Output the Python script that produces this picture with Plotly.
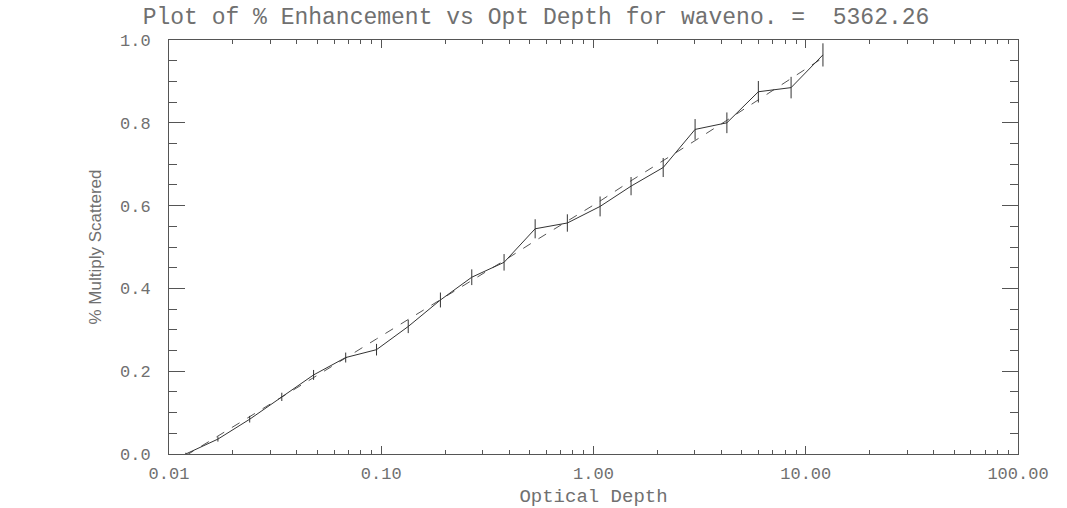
import plotly.graph_objects as go

# Data
optical_depth = [0.012, 0.017, 0.024, 0.034, 0.048, 0.068, 0.095, 0.134, 0.19, 0.267,
                 0.379, 0.531, 0.753, 1.074, 1.503, 2.13, 3.01, 4.25, 5.98, 8.53, 12.05]
pct_scattered = [0.0, 0.036, 0.084, 0.138, 0.191, 0.233, 0.252, 0.308, 0.372, 0.427,
                 0.463, 0.544, 0.558, 0.598, 0.647, 0.692, 0.784, 0.800, 0.875, 0.885, 0.964]
pct_error = [0.003, 0.006, 0.008, 0.010, 0.012, 0.012, 0.014, 0.016, 0.018, 0.019,
             0.020, 0.023, 0.021, 0.024, 0.022, 0.023, 0.025, 0.025, 0.026, 0.026, 0.028]
fit_values = [-0.004, 0.043, 0.090, 0.138, 0.185, 0.232, 0.278, 0.325, 0.372, 0.420,
              0.467, 0.515, 0.563, 0.611, 0.660, 0.708, 0.757, 0.806, 0.856, 0.906, 0.957]

title_text = "Plot of % Enhancement vs Opt Depth for waveno. =  5362.26"
x_title = "Optical Depth"
y_title = "% Multiply Scattered"

TXT = "#707070"
AX = "#555555"
MONO = "Liberation Mono, DejaVu Sans Mono, monospace"

fig = go.Figure()
fig.add_trace(go.Scatter(
    x=optical_depth, y=fit_values, mode="lines",
    line=dict(color="#555555", width=1, dash="dash"),
    showlegend=False, hoverinfo="skip"))
fig.add_trace(go.Scatter(
    x=optical_depth, y=pct_scattered, mode="lines",
    line=dict(color="#333333", width=1),
    error_y=dict(type="data", array=pct_error, width=0, thickness=1, color="#333333"),
    showlegend=False))

fig.update_layout(
    width=1067, height=508,
    margin=dict(l=169, r=49, t=40, b=54, autoexpand=False),
    paper_bgcolor="white", plot_bgcolor="white",
    title=dict(text=title_text, xref="paper", xanchor="center",
               x=(536 - 169) / (1018 - 169),
               y=1 - 16 / 508, yref="container", yanchor="middle",
               font=dict(family=MONO, size=23, color=TXT)),
    font=dict(family=MONO, color=TXT),
)

fig.update_xaxes(
    type="log", range=[-2, 2], dtick=1, tickformat=".2f",
    automargin=False,
    showgrid=False, zeroline=False,
    showline=True, linecolor=AX, linewidth=1, mirror="allticks",
    ticks="inside", ticklen=8, tickcolor=AX, tickwidth=1,
    minor=dict(ticks="inside", ticklen=4, tickcolor=AX, dtick="D1", showgrid=False),
    ticklabelstandoff=4,
    tickfont=dict(family=MONO, size=17, color=TXT),
    title=dict(text=x_title, standoff=12, font=dict(family=MONO, size=19, color=TXT)),
)
fig.update_yaxes(
    range=[0, 1.0], dtick=0.2, tickformat=".1f",
    automargin=False,
    showgrid=False, zeroline=False,
    showline=True, linecolor=AX, linewidth=1, mirror="allticks",
    ticks="inside", ticklen=16, tickcolor=AX, tickwidth=1,
    minor=dict(ticks="inside", ticklen=8, tickcolor=AX, dtick=0.05, showgrid=False),
    ticklabelstandoff=14,
    tickfont=dict(family=MONO, size=17, color=TXT),
    title=dict(text=y_title, standoff=14, font=dict(family="Liberation Sans, Arial", size=17, color=TXT)),
)

fig.write_html("out.html")
